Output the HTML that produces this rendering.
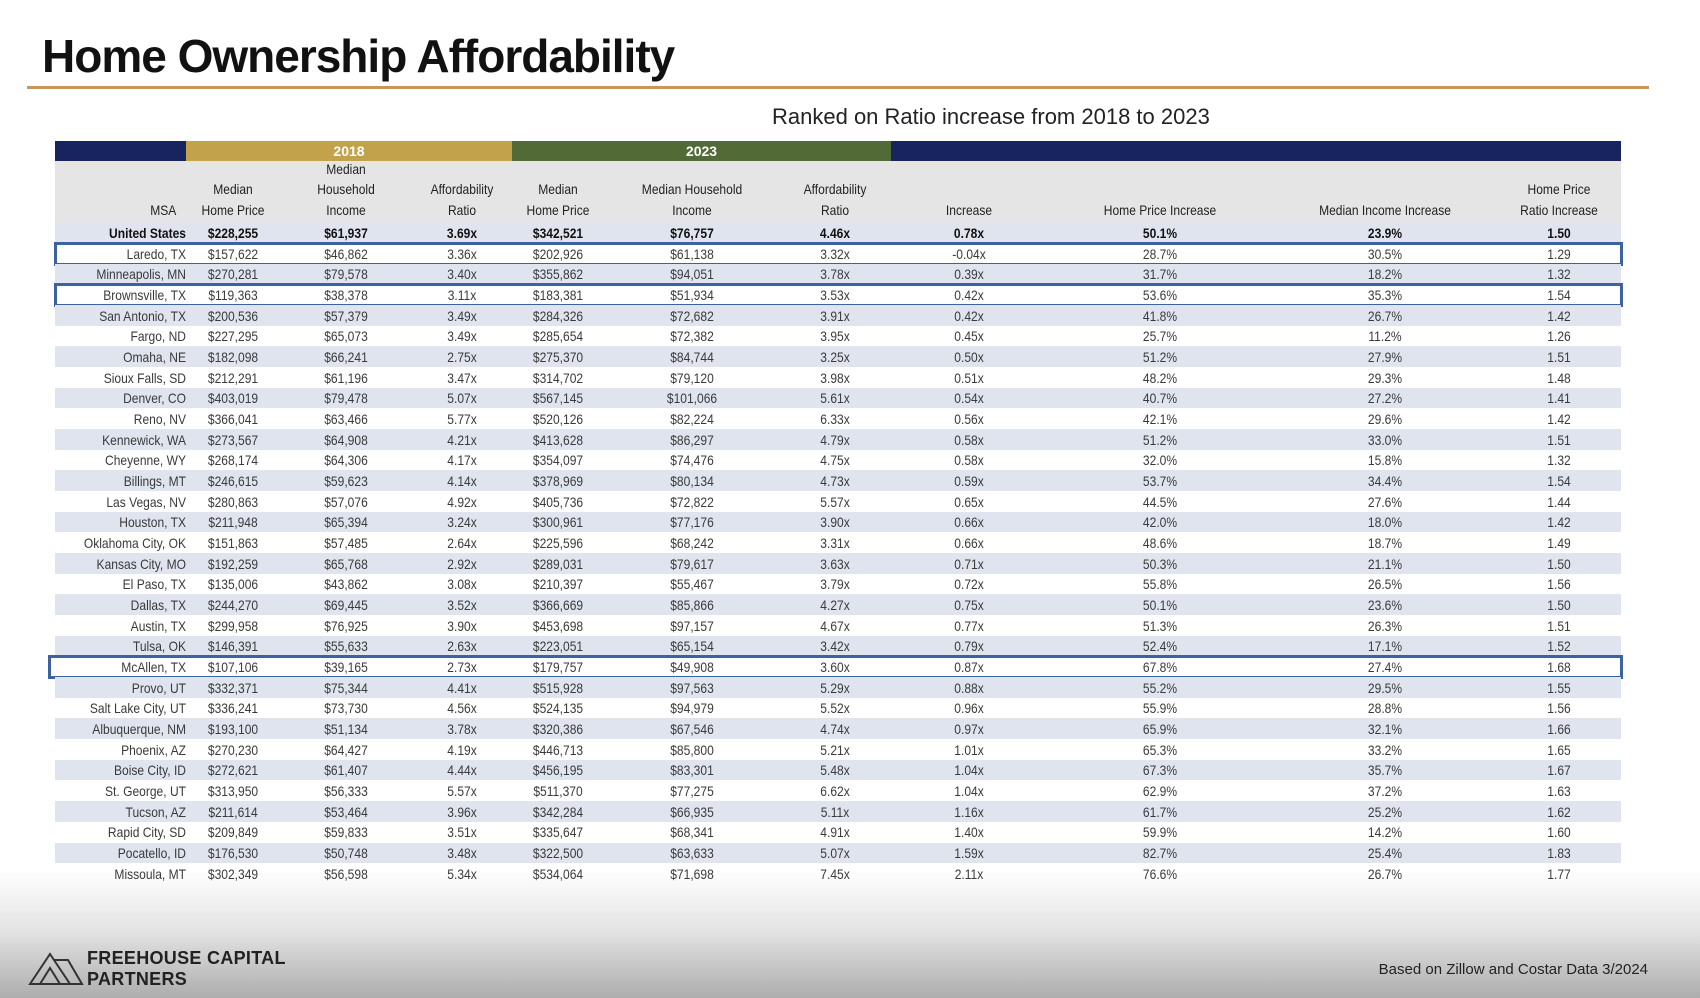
<!DOCTYPE html>
<html><head><meta charset="utf-8">
<style>
html,body{margin:0;padding:0}
body{width:1700px;height:998px;position:relative;overflow:hidden;font-family:"Liberation Sans",sans-serif;background:linear-gradient(to bottom,#fff 0px,#fff 870px,#e4e4e4 930px,#adadad 998px)}
.abs{position:absolute}
.cell{position:absolute;font-family:"Liberation Sans Narrow","Liberation Sans",sans-serif;font-size:14px;color:#3a3a3a;white-space:nowrap;transform:translateX(-50%) scaleX(0.86);transform-origin:center;line-height:16px}
.msa{transform:translateX(-100%) scaleX(0.86);transform-origin:right center}
.hdr{position:absolute;font-family:"Liberation Sans Narrow","Liberation Sans",sans-serif;font-size:14px;color:#222;text-align:center;transform:translateX(-50%) scaleX(0.86);white-space:nowrap;line-height:20.5px}
.box{position:absolute;border:3px solid #3d62a2;box-sizing:border-box}
</style></head><body>
<div class="abs" style="left:42px;top:29px;font-size:46px;color:#111;font-weight:bold;letter-spacing:-1px">Home Ownership Affordability</div>
<div class="abs" style="left:27px;top:86px;width:1622px;height:3px;background:#c9955a"></div>
<div class="abs" style="left:772px;top:104px;font-size:22px;color:#222">Ranked on Ratio increase from 2018 to 2023</div>

<div>
<div class="abs" style="left:55px;top:141px;width:131px;height:20px;background:#17245e"></div>
<div class="abs" style="left:186px;top:141px;width:326px;height:20px;background:#c3a24c;color:#fff;font-size:14px;text-align:center;line-height:20px;font-weight:bold">2018</div>
<div class="abs" style="left:512px;top:141px;width:379px;height:20px;background:#526a35;color:#fff;font-size:14px;text-align:center;line-height:20px;font-weight:bold">2023</div>
<div class="abs" style="left:891px;top:141px;width:730px;height:20px;background:#17245e"></div>
<div class="abs" style="left:55px;top:161px;width:1566px;height:62px;background:#e5e5e5"></div>
<div id="hdrs"></div>
<div id="rows"></div>
</div>

<div class="abs" style="left:28px;top:950px">
<svg width="56" height="36" viewBox="0 0 56 36"><path d="M2 34 L22 4 L42 34 Z M12 34 L22 18 L32 34 M26 10 L40 10 L54 34 L42 34" fill="none" stroke="#333" stroke-width="2"/></svg>
</div>
<div class="abs" style="left:87px;top:948px;font-size:18px;line-height:21px;color:#222;font-weight:bold;letter-spacing:0.3px">FREEHOUSE CAPITAL<br>PARTNERS</div>
<div class="abs" style="right:52px;top:961px;font-size:15px;color:#222">Based on Zillow and Costar Data 3/2024</div>

<script>
const colX=[186,233,346,462,558,692,835,969,1160,1385,1559];
const headers=[["MSA"],["Median","Home Price"],["Median","Household","Income"],["Affordability","Ratio"],["Median","Home Price"],["Median Household","Income"],["Affordability","Ratio"],["Increase"],["Home Price Increase"],["Median Income Increase"],["Home Price","Ratio Increase"]];
const msa=["United States","Laredo, TX","Minneapolis, MN","Brownsville, TX","San Antonio, TX","Fargo, ND","Omaha, NE","Sioux Falls, SD","Denver, CO","Reno, NV","Kennewick, WA","Cheyenne, WY","Billings, MT","Las Vegas, NV","Houston, TX","Oklahoma City, OK","Kansas City, MO","El Paso, TX","Dallas, TX","Austin, TX","Tulsa, OK","McAllen, TX","Provo, UT","Salt Lake City, UT","Albuquerque, NM","Phoenix, AZ","Boise City, ID","St. George, UT","Tucson, AZ","Rapid City, SD","Pocatello, ID","Missoula, MT"];
const price2018=["$228,255","$157,622","$270,281","$119,363","$200,536","$227,295","$182,098","$212,291","$403,019","$366,041","$273,567","$268,174","$246,615","$280,863","$211,948","$151,863","$192,259","$135,006","$244,270","$299,958","$146,391","$107,106","$332,371","$336,241","$193,100","$270,230","$272,621","$313,950","$211,614","$209,849","$176,530","$302,349"];
const income2018=["$61,937","$46,862","$79,578","$38,378","$57,379","$65,073","$66,241","$61,196","$79,478","$63,466","$64,908","$64,306","$59,623","$57,076","$65,394","$57,485","$65,768","$43,862","$69,445","$76,925","$55,633","$39,165","$75,344","$73,730","$51,134","$64,427","$61,407","$56,333","$53,464","$59,833","$50,748","$56,598"];
const ratio2018=["3.69x","3.36x","3.40x","3.11x","3.49x","3.49x","2.75x","3.47x","5.07x","5.77x","4.21x","4.17x","4.14x","4.92x","3.24x","2.64x","2.92x","3.08x","3.52x","3.90x","2.63x","2.73x","4.41x","4.56x","3.78x","4.19x","4.44x","5.57x","3.96x","3.51x","3.48x","5.34x"];
const price2023=["$342,521","$202,926","$355,862","$183,381","$284,326","$285,654","$275,370","$314,702","$567,145","$520,126","$413,628","$354,097","$378,969","$405,736","$300,961","$225,596","$289,031","$210,397","$366,669","$453,698","$223,051","$179,757","$515,928","$524,135","$320,386","$446,713","$456,195","$511,370","$342,284","$335,647","$322,500","$534,064"];
const income2023=["$76,757","$61,138","$94,051","$51,934","$72,682","$72,382","$84,744","$79,120","$101,066","$82,224","$86,297","$74,476","$80,134","$72,822","$77,176","$68,242","$79,617","$55,467","$85,866","$97,157","$65,154","$49,908","$97,563","$94,979","$67,546","$85,800","$83,301","$77,275","$66,935","$68,341","$63,633","$71,698"];
const ratio2023=["4.46x","3.32x","3.78x","3.53x","3.91x","3.95x","3.25x","3.98x","5.61x","6.33x","4.79x","4.75x","4.73x","5.57x","3.90x","3.31x","3.63x","3.79x","4.27x","4.67x","3.42x","3.60x","5.29x","5.52x","4.74x","5.21x","5.48x","6.62x","5.11x","4.91x","5.07x","7.45x"];
const ratioIncrease=["0.78x","-0.04x","0.39x","0.42x","0.42x","0.45x","0.50x","0.51x","0.54x","0.56x","0.58x","0.58x","0.59x","0.65x","0.66x","0.66x","0.71x","0.72x","0.75x","0.77x","0.79x","0.87x","0.88x","0.96x","0.97x","1.01x","1.04x","1.04x","1.16x","1.40x","1.59x","2.11x"];
const priceIncrease=["50.1%","28.7%","31.7%","53.6%","41.8%","25.7%","51.2%","48.2%","40.7%","42.1%","51.2%","32.0%","53.7%","44.5%","42.0%","48.6%","50.3%","55.8%","50.1%","51.3%","52.4%","67.8%","55.2%","55.9%","65.9%","65.3%","67.3%","62.9%","61.7%","59.9%","82.7%","76.6%"];
const incomeIncrease=["23.9%","30.5%","18.2%","35.3%","26.7%","11.2%","27.9%","29.3%","27.2%","29.6%","33.0%","15.8%","34.4%","27.6%","18.0%","18.7%","21.1%","26.5%","23.6%","26.3%","17.1%","27.4%","29.5%","28.8%","32.1%","33.2%","35.7%","37.2%","25.2%","14.2%","25.4%","26.7%"];
const hpRatioIncrease=["1.50","1.29","1.32","1.54","1.42","1.26","1.51","1.48","1.41","1.42","1.51","1.32","1.54","1.44","1.42","1.49","1.50","1.56","1.50","1.51","1.52","1.68","1.55","1.56","1.66","1.65","1.67","1.63","1.62","1.60","1.83","1.77"];
const highlighted=["Laredo, TX","Brownsville, TX","McAllen, TX"];

const hd=document.getElementById('hdrs');
headers.forEach((h,i)=>{
  const d=document.createElement('div');
  d.className='hdr';
  
  
  d.style.left=colX[i]+'px';
  if(i===0){d.style.transform='translateX(-125%) scaleX(0.86)';}
  d.style.top=(223-3-h.length*20.5)+'px';
  d.innerHTML=h.join('<br>');
  hd.appendChild(d);
});

const rowsEl=document.getElementById('rows');
const top0=222.4,pitch=20.67;
const cols=[msa,price2018,income2018,ratio2018,price2023,income2023,ratio2023,ratioIncrease,priceIncrease,incomeIncrease,hpRatioIncrease];
msa.forEach((m,r)=>{
  const y=top0+r*pitch;
  const row=document.createElement('div');
  row.className='abs';
  
  
  row.style.left='55px';row.style.top=y+'px';row.style.width='1566px';row.style.height=pitch+'px';
  row.style.background=(r%2===0)?'#dfe4ee':'transparent';
  rowsEl.appendChild(row);
  cols.forEach((arr,c)=>{
    const t=document.createElement('div');
    t.className='cell'+(c===0?' msa':'');
    
    
    t.style.left=colX[c]+'px';
    t.style.top=(y+2.5)+'px';
    if(r===0){t.style.color='#111';t.style.fontWeight='bold';}
    t.textContent=arr[r];
    rowsEl.appendChild(t);
  });
  if(highlighted.includes(m)){
    const b=document.createElement('div');
    b.className='box';
    
    
    const lx=(m==='McAllen, TX')?48:54;
    b.style.left=lx+'px';b.style.top=(y-1)+'px';b.style.width=(1623-lx)+'px';b.style.height=(pitch+3)+'px';
    rowsEl.appendChild(b);
  }
});
</script>
</body></html>
